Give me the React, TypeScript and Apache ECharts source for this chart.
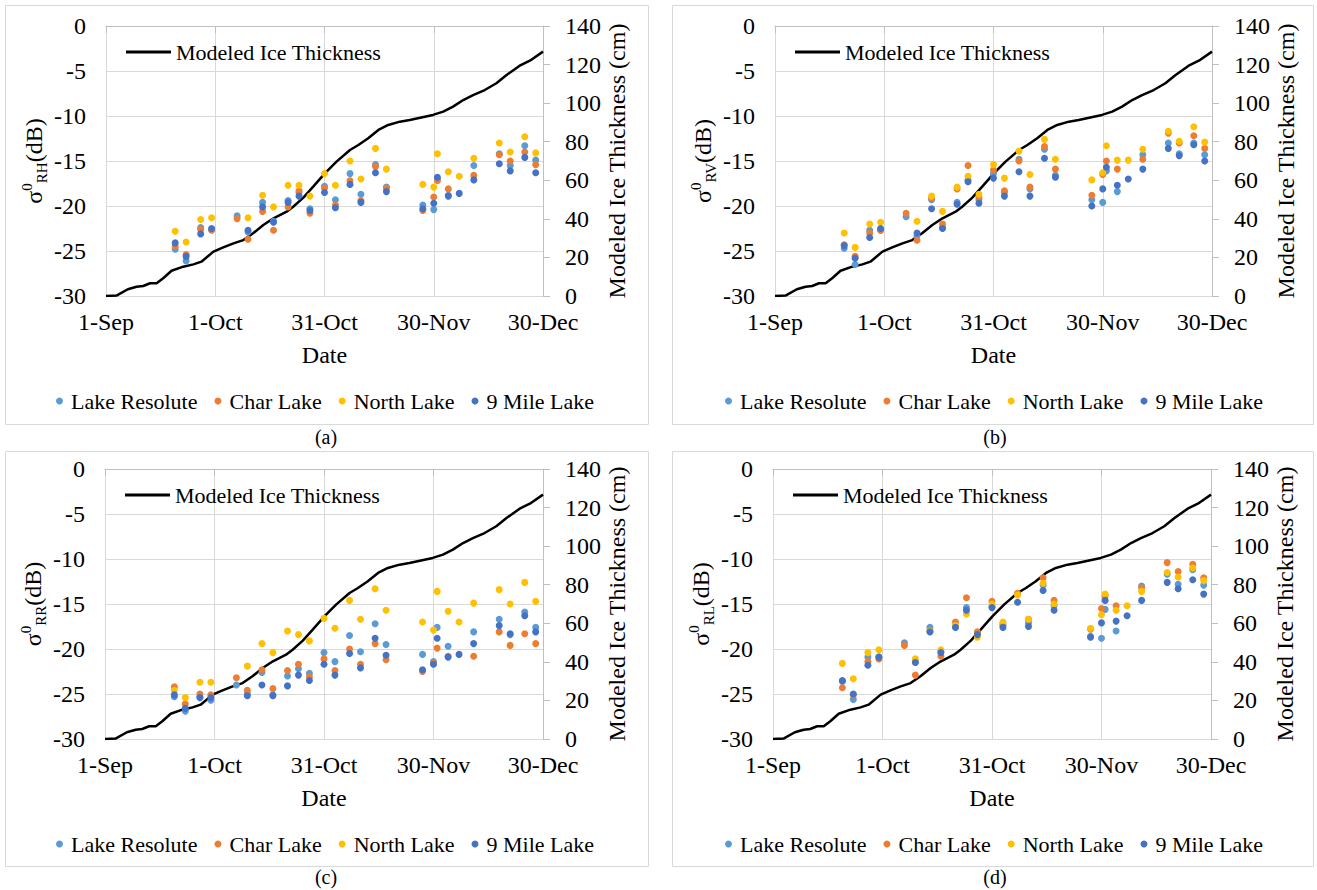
import React, { useEffect, useRef } from 'react';
import * as echarts from 'echarts';

const FONT = 'Liberation Serif';

// Observation dates as days after 1 September
const OBS_DAYS = [19, 22, 26, 29, 36, 39, 43, 46, 50, 53, 56, 60, 63, 67, 70, 74, 77, 87, 90, 91, 94, 97, 101, 108, 111, 115, 118];
const DATE_TICKS = ['1-Sep', '1-Oct', '31-Oct', '30-Nov', '30-Dec'];

// Modeled ice thickness (cm), knots in days after 1 September
const ICE_DAYS = [0, 3, 6, 8.4, 10.2, 12.1, 13.9, 15.7, 18, 21.2, 24, 26.2, 29.5, 32.2, 35, 37.7, 40.4, 43.2, 46, 49.6, 51.4, 54.2, 56.9, 60.1, 63.3, 67, 69.3, 72, 74.8, 77.5, 80.7, 83.4, 86.6, 89.8, 92.6, 95.3, 98.1, 100.8, 104, 107.2, 110, 113.6, 116.4, 120];
const ICE_CM = [0, 0.3, 3.5, 4.8, 5.2, 6.6, 6.6, 9.2, 13.1, 15.2, 16.4, 17.8, 23, 25.2, 27.3, 29, 32.5, 36.8, 40.3, 43.7, 46.3, 51, 56.7, 63.6, 69.7, 75.7, 78.3, 81.8, 86.1, 88.7, 90.4, 91.3, 92.6, 93.9, 95.6, 98.2, 101.6, 104.2, 106.8, 110.3, 114.6, 119.4, 122, 126.7];

const LAKES = ['Lake Resolute', 'Char Lake', 'North Lake', '9 Mile Lake'];
const LAKE_COLORS = ['#5B9BD5', '#ED7D31', '#FFC000', '#4472C4'];
const ICE_NAME = 'Modeled Ice Thickness';

// σ0 RH (dB)
const RH_RESOLUTE = [-24.8, -26.1, -22.4, -22.7, -21.1, -22.9, -19.6, -21.7, -19.4, -18.5, -20.3, -17.8, -19.3, -16.4, -18.7, -15.4, -17.9, -19.9, -20.4, -17.0, -18.8, null, -15.5, -14.2, -15.5, -13.3, -14.9];
const RH_CHAR = [-24.5, -25.4, -22.6, -22.6, -21.4, -23.7, -20.6, -22.7, -20.1, -18.3, -20.8, -18.0, -19.9, -17.2, -19.4, -15.6, -18.0, -20.5, -19.0, -17.2, -18.1, null, -16.6, -14.3, -15.0, -14.0, -15.4];
const RH_NORTH = [-22.8, -24.0, -21.5, -21.3, null, -21.3, -18.8, -20.1, -17.7, -17.7, -18.9, -16.4, -17.7, -15.0, -17.0, -13.6, -15.9, -17.6, -17.9, -14.2, -16.2, -16.7, -14.7, -13.0, -14.0, -12.3, -14.1];
const RH_NINE = [-24.1, -25.6, -23.1, -22.5, null, -22.7, -20.1, -21.8, -19.6, -18.9, -20.5, -18.5, -20.2, -17.6, -19.6, -16.3, -18.4, -20.3, -19.7, -16.8, -18.9, -18.6, -17.1, -15.3, -16.1, -14.6, -16.3];

// σ0 RV (dB)
const RV_RESOLUTE = [-24.7, -26.5, -22.7, -22.7, -21.2, -23.3, -19.3, -22.4, -19.6, -17.1, -19.3, -16.4, -18.5, -14.8, -18.1, -13.7, -16.6, -19.3, -19.6, -16.1, -18.4, null, -14.3, -13.0, -14.2, -13.0, -14.3];
const RV_CHAR = [-24.3, -25.6, -23.0, -22.7, -20.8, -23.8, -19.1, -22.0, -18.1, -15.5, -19.0, -16.0, -18.3, -15.0, -17.9, -13.4, -15.9, -18.8, -16.5, -15.0, -15.9, null, -14.8, -11.9, -13.0, -12.2, -13.6];
const RV_NORTH = [-23.0, -24.6, -22.0, -21.8, null, -21.7, -18.9, -20.6, -17.9, -16.7, -18.7, -15.4, -16.9, -13.9, -16.5, -12.6, -14.8, -17.1, -16.3, -13.3, -14.9, -14.9, -13.7, -11.7, -12.8, -11.2, -12.9];
const RV_NINE = [-24.4, -25.8, -23.5, -22.5, null, -23.0, -20.3, -22.5, -19.8, -17.3, -19.7, -16.9, -18.9, -16.2, -18.9, -14.7, -16.8, -20.0, -18.1, -15.7, -17.7, -17.0, -15.9, -13.6, -14.4, -13.2, -15.0];

// σ0 RR (dB)
const RR_RESOLUTE = [-25.3, -26.9, -25.3, -25.7, -24.0, -25.0, -22.6, -25.1, -23.0, -22.2, -22.7, -20.4, -21.4, -18.5, -20.3, -17.2, -19.5, -20.6, -21.4, -17.6, -19.7, null, -18.1, -16.7, -18.4, -15.9, -17.6];
const RR_CHAR = [-24.2, -26.1, -25.0, -25.1, -23.2, -24.6, -22.3, -24.4, -22.4, -21.7, -23.1, -21.1, -22.4, -20.0, -21.7, -19.4, -21.2, -22.5, -21.6, -19.9, -20.8, null, -20.8, -18.1, -19.6, -18.3, -19.4];
const RR_NORTH = [-24.6, -25.4, -23.7, -23.7, null, -21.9, -19.4, -20.4, -18.0, -18.4, -19.1, -16.6, -17.7, -14.6, -16.7, -13.3, -15.7, -17.0, -17.9, -13.6, -15.8, -17.0, -14.9, -13.4, -15.0, -12.6, -14.7];
const RR_NINE = [-25.1, -26.6, -25.4, -25.4, null, -25.2, -24.0, -25.2, -24.1, -22.9, -23.5, -21.7, -22.9, -20.5, -22.1, -18.8, -20.7, -22.3, -21.7, -18.8, -20.9, -20.6, -19.4, -17.4, -18.3, -16.3, -18.1];

// σ0 RL (dB)
const RL_RESOLUTE = [-23.6, -25.6, -20.9, -20.9, -19.3, -21.4, -17.6, -20.3, -17.5, -15.4, -18.3, -15.3, -17.4, -13.9, -17.1, -12.9, -15.2, -18.6, -18.8, -15.6, -18.0, null, -13.0, -11.7, -12.8, -11.2, -12.9];
const RL_CHAR = [-24.3, -25.1, -21.4, -21.1, -19.6, -22.9, -18.0, -20.8, -17.0, -14.3, -18.1, -14.7, -17.2, -13.8, -16.7, -12.1, -14.6, -17.8, -15.5, -14.1, -15.2, null, -13.2, -10.4, -11.4, -10.6, -12.1];
const RL_NORTH = [-21.6, -23.3, -20.4, -20.1, null, -21.1, -18.0, -20.1, -17.4, -16.1, -18.7, -15.0, -17.0, -14.0, -16.7, -12.7, -15.0, -17.7, -16.2, -13.9, -15.7, -15.2, -13.6, -11.5, -12.0, -11.0, -12.4];
const RL_NINE = [-23.5, -25.0, -21.8, -20.9, null, -21.5, -18.1, -20.4, -17.6, -15.7, -18.4, -15.4, -17.6, -14.8, -17.5, -13.5, -15.7, -18.7, -17.1, -14.6, -16.9, -16.3, -14.6, -12.6, -13.3, -12.3, -13.9];

const PANELS = [
  { pol: 'RH', caption: '(a)', values: [RH_RESOLUTE, RH_CHAR, RH_NORTH, RH_NINE] },
  { pol: 'RV', caption: '(b)', values: [RV_RESOLUTE, RV_CHAR, RV_NORTH, RV_NINE] },
  { pol: 'RR', caption: '(c)', values: [RR_RESOLUTE, RR_CHAR, RR_NORTH, RR_NINE] },
  { pol: 'RL', caption: '(d)', values: [RL_RESOLUTE, RL_CHAR, RL_NORTH, RL_NINE] },
];

// Pixel placement of each panel: plot area, frame, caption, legends
const LAYOUT = [
  { left: 106, top: 26, width: 437, height: 270, box: [5, 5, 643, 419], cap: [326, 437], legLeft: 56, legTop: 390, iceLeft: 126, iceTop: 41 },
  { left: 775, top: 26, width: 437, height: 270, box: [672, 5, 641, 419], cap: [995, 437], legLeft: 725, legTop: 390, iceLeft: 795, iceTop: 41 },
  { left: 105, top: 469, width: 438, height: 270, box: [5, 451, 643, 415], cap: [326, 877], legLeft: 56, legTop: 833, iceLeft: 125, iceTop: 484 },
  { left: 773, top: 469, width: 438, height: 270, box: [672, 451, 641, 415], cap: [995, 877], legLeft: 725, legTop: 833, iceLeft: 793, iceTop: 484 },
];

const GRID_COLOR = '#d9d9d9';
const AXIS_COLOR = '#bfbfbf';

const richText = (size: number) => ({ t: { fontFamily: FONT, fontSize: size, color: '#000' } });
const wrap = (s: string | number) => `{t|${s}}`;

function buildOption() {
  const grid: any[] = [];
  const xAxis: any[] = [];
  const yAxis: any[] = [];
  const series: any[] = [];
  const legend: any[] = [];
  const graphic: any[] = [];

  PANELS.forEach((p, i) => {
    const L = LAYOUT[i];
    grid.push({ left: L.left, top: L.top, width: L.width, height: L.height, containLabel: false });
    xAxis.push({
      type: 'value', gridIndex: i, min: 0, max: 120, interval: 30,
      name: wrap('Date'), nameLocation: 'middle', nameGap: 47,
      nameTextStyle: { fontFamily: FONT, fontSize: 24, color: '#000', rich: richText(24) },
      axisLine: { show: true, lineStyle: { color: AXIS_COLOR, width: 1 } },
      axisTick: { show: true, length: 7, lineStyle: { color: AXIS_COLOR } },
      splitLine: { show: true, lineStyle: { color: GRID_COLOR, width: 1 } },
      axisLabel: {
        fontFamily: FONT, fontSize: 24, color: '#000', margin: 14, rich: richText(24),
        formatter: (v: number) => wrap(DATE_TICKS[Math.round(v / 30)] ?? ''),
      },
    });
    yAxis.push({
      type: 'value', gridIndex: i, position: 'left', min: -30, max: 0, interval: 5,
      name: `{s|σ}{sup|0}{sub|${p.pol}}{s|(dB)}`, nameLocation: 'middle', nameGap: 57,
      nameTextStyle: {
        fontFamily: FONT, color: '#000',
        rich: {
          s: { fontFamily: FONT, fontSize: 24, lineHeight: 30, color: '#000' },
          sup: { fontFamily: FONT, fontSize: 15, lineHeight: 15, verticalAlign: 'top', color: '#000' },
          sub: { fontFamily: FONT, fontSize: 15, lineHeight: 15, verticalAlign: 'bottom', color: '#000' },
        },
      },
      axisLine: { show: true, lineStyle: { color: GRID_COLOR, width: 1 } },
      axisTick: { show: false },
      splitLine: { show: true, lineStyle: { color: GRID_COLOR, width: 1 } },
      axisLabel: {
        fontFamily: FONT, fontSize: 24, color: '#000', margin: 20, rich: richText(24),
        formatter: (v: number) => wrap(v),
      },
    });
    yAxis.push({
      type: 'value', gridIndex: i, position: 'right', min: 0, max: 140, interval: 20,
      name: wrap('Modeled Ice Thickness (cm)'), nameLocation: 'middle', nameGap: 62,
      nameTextStyle: { fontFamily: FONT, fontSize: 24, color: '#000', rich: richText(24) },
      axisLine: { show: true, lineStyle: { color: AXIS_COLOR, width: 1 } },
      axisTick: { show: true, length: 7, lineStyle: { color: AXIS_COLOR } },
      splitLine: { show: false },
      axisLabel: {
        fontFamily: FONT, fontSize: 24, color: '#000', margin: 22, rich: richText(24),
        formatter: (v: number) => wrap(v),
      },
    });

    series.push({
      name: ICE_NAME, type: 'line', xAxisIndex: i, yAxisIndex: 2 * i + 1,
      symbol: 'none', showSymbol: false, z: 1,
      lineStyle: { color: '#000', width: 2.5 },
      itemStyle: { color: '#000' },
      data: ICE_DAYS.map((d, k) => [d, ICE_CM[k]]),
    });
    p.values.forEach((vals, s) => {
      series.push({
        name: LAKES[s], type: 'scatter', xAxisIndex: i, yAxisIndex: 2 * i,
        symbol: 'circle', symbolSize: 7, z: 2,
        itemStyle: { color: LAKE_COLORS[s], opacity: 1 },
        data: OBS_DAYS.map((d, k) => [d, vals[k]]).filter((pt) => pt[1] !== null),
      });
    });

    legend.push({
      data: LAKES, left: L.legLeft, top: L.legTop, orient: 'horizontal', padding: 0,
      icon: 'circle', itemWidth: 13, itemHeight: 7, itemGap: 17, selectedMode: false,
      formatter: (name: string) => wrap(name),
      textStyle: { fontFamily: FONT, fontSize: 22, color: '#000', rich: richText(22) },
    });
    legend.push({
      data: [ICE_NAME], left: L.iceLeft, top: L.iceTop, padding: 0,
      icon: 'rect', itemWidth: 45, itemHeight: 3, selectedMode: false,
      itemStyle: { color: '#000' },
      formatter: (name: string) => wrap(name),
      textStyle: { fontFamily: FONT, fontSize: 22, color: '#000', rich: richText(22) },
    });

    graphic.push({
      type: 'rect', silent: true,
      shape: { x: L.box[0] + 0.5, y: L.box[1] + 0.5, width: L.box[2], height: L.box[3] },
      style: { fill: 'none', stroke: GRID_COLOR, lineWidth: 1 },
    });
    graphic.push({
      type: 'text', silent: true, x: L.cap[0], y: L.cap[1],
      style: { text: p.caption, fontFamily: FONT, fontSize: 20, fill: '#000', align: 'center', verticalAlign: 'middle' },
    });
  });

  return {
    animation: false,
    backgroundColor: '#fff',
    textStyle: { fontFamily: FONT, color: '#000' },
    grid, xAxis, yAxis, series, legend, graphic,
  };
}

export default function App() {
  const ref = useRef<HTMLDivElement>(null);
  useEffect(() => {
    if (!ref.current) return;
    const chart = echarts.init(ref.current, undefined, { renderer: 'svg' });
    chart.setOption(buildOption());
    return () => chart.dispose();
  }, []);
  return (
    <div
      ref={ref}
      style={{ position: 'absolute', left: 0, top: 0, width: 1317, height: 890, background: '#fff' }}
    />
  );
}
